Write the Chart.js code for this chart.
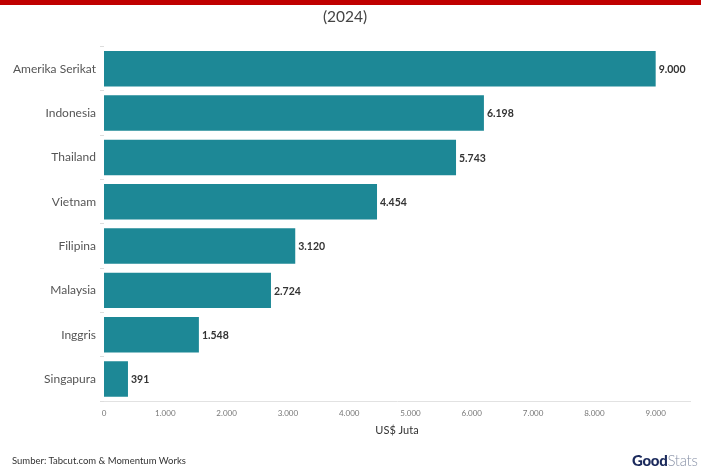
<!DOCTYPE html>
<html>
<head>
<meta charset="utf-8">
<script src="https://cdn.jsdelivr.net/npm/chart.js@4/dist/chart.umd.min.js"></script>
<style>
  html, body { margin: 0; padding: 0; background: #fff; }
  #wrap { position: relative; width: 701px; height: 469px; overflow: hidden; font-family: Lato, "Noto Sans", sans-serif; }
  #topbar { position: absolute; left: 0; top: 0; width: 701px; height: 5px; background: #c00000; }
  #source { position: absolute; left: 12px; top: 455px; font-size: 9.5px; color: #333; }
  #logo { position: absolute; left: 632px; top: 451px; font-size: 15px; letter-spacing: -0.3px; white-space: nowrap; }
  #logo b { color: #1b2a5c; font-weight: 900; }
  #logo span { color: #8a93a8; font-weight: 300; }
</style>
</head>
<body>
<div id="wrap">
  <canvas id="c" width="701" height="469"></canvas>
  <div id="topbar"></div>
  <div id="source">Sumber: Tabcut.com &amp; Momentum Works</div>
  <div id="logo"><b>Good</b><span>Stats</span></div>
</div>
<script>
const categories = ["Amerika Serikat", "Indonesia", "Thailand", "Vietnam", "Filipina", "Malaysia", "Inggris", "Singapura"];
const values = [9000, 6198, 5743, 4454, 3120, 2724, 1548, 391];
const xTicks = [0, 1000, 2000, 3000, 4000, 5000, 6000, 7000, 8000, 9000];
const titleText = "(2024)";
const xAxisTitle = "US$ Juta";

function fmt(v) {
  return String(Math.round(v)).replace(/\B(?=(\d{3})+(?!\d))/g, ".");
}

const valueLabels = {
  id: "valueLabels",
  afterDatasetsDraw(chart) {
    const ctx = chart.ctx;
    const meta = chart.getDatasetMeta(0);
    ctx.save();
    ctx.font = "bold 10.5px Lato, 'Noto Sans', sans-serif";
    ctx.fillStyle = "#333";
    ctx.textAlign = "left";
    ctx.textBaseline = "middle";
    meta.data.forEach((bar, i) => {
      ctx.fillText(fmt(values[i]), bar.x + 3, bar.y + 1);
    });
    ctx.restore();
  }
};

new Chart(document.getElementById("c"), {
  type: "bar",
  data: {
    labels: categories,
    datasets: [{
      data: values,
      backgroundColor: "#1d8896",
      borderWidth: 0,
      barPercentage: 0.8,
      categoryPercentage: 1.0
    }]
  },
  options: {
    indexAxis: "y",
    responsive: false,
    animation: false,
    devicePixelRatio: 1,
    layout: { padding: { left: 0, right: 11, top: 0, bottom: 28 } },
    plugins: {
      legend: { display: false },
      tooltip: { enabled: false },
      title: {
        display: true,
        text: titleText,
        color: "#444",
        font: { family: "Lato, 'Noto Sans', sans-serif", size: 15.5, weight: "normal" },
        padding: { top: 8, bottom: 20 }
      }
    },
    scales: {
      x: {
        min: 0,
        max: 9560,
        grid: { display: false },
        border: { display: true, color: "#e2e2e2" },
        afterBuildTicks(scale) { scale.ticks = xTicks.map(v => ({ value: v })); },
        ticks: {
          color: "#777",
          padding: -1,
          autoSkip: false,
          maxRotation: 0,
          font: { family: "Lato, 'Noto Sans', sans-serif", size: 8 },
          callback: (v) => fmt(v)
        },
        title: {
          display: true,
          text: xAxisTitle,
          color: "#333",
          font: { family: "Lato, 'Noto Sans', sans-serif", size: 11 },
          padding: { top: 7, bottom: 4 }
        }
      },
      y: {
        grid: { display: true, drawOnChartArea: false, tickLength: 4, color: "#ddd" },
        border: { display: false },
        ticks: {
          color: "#555",
          padding: 4,
          font: { family: "Lato, 'Noto Sans', sans-serif", size: 12 }
        },
        afterFit(scale) { scale.width = 104; }
      }
    }
  },
  plugins: [valueLabels]
});
</script>
</body>
</html>
